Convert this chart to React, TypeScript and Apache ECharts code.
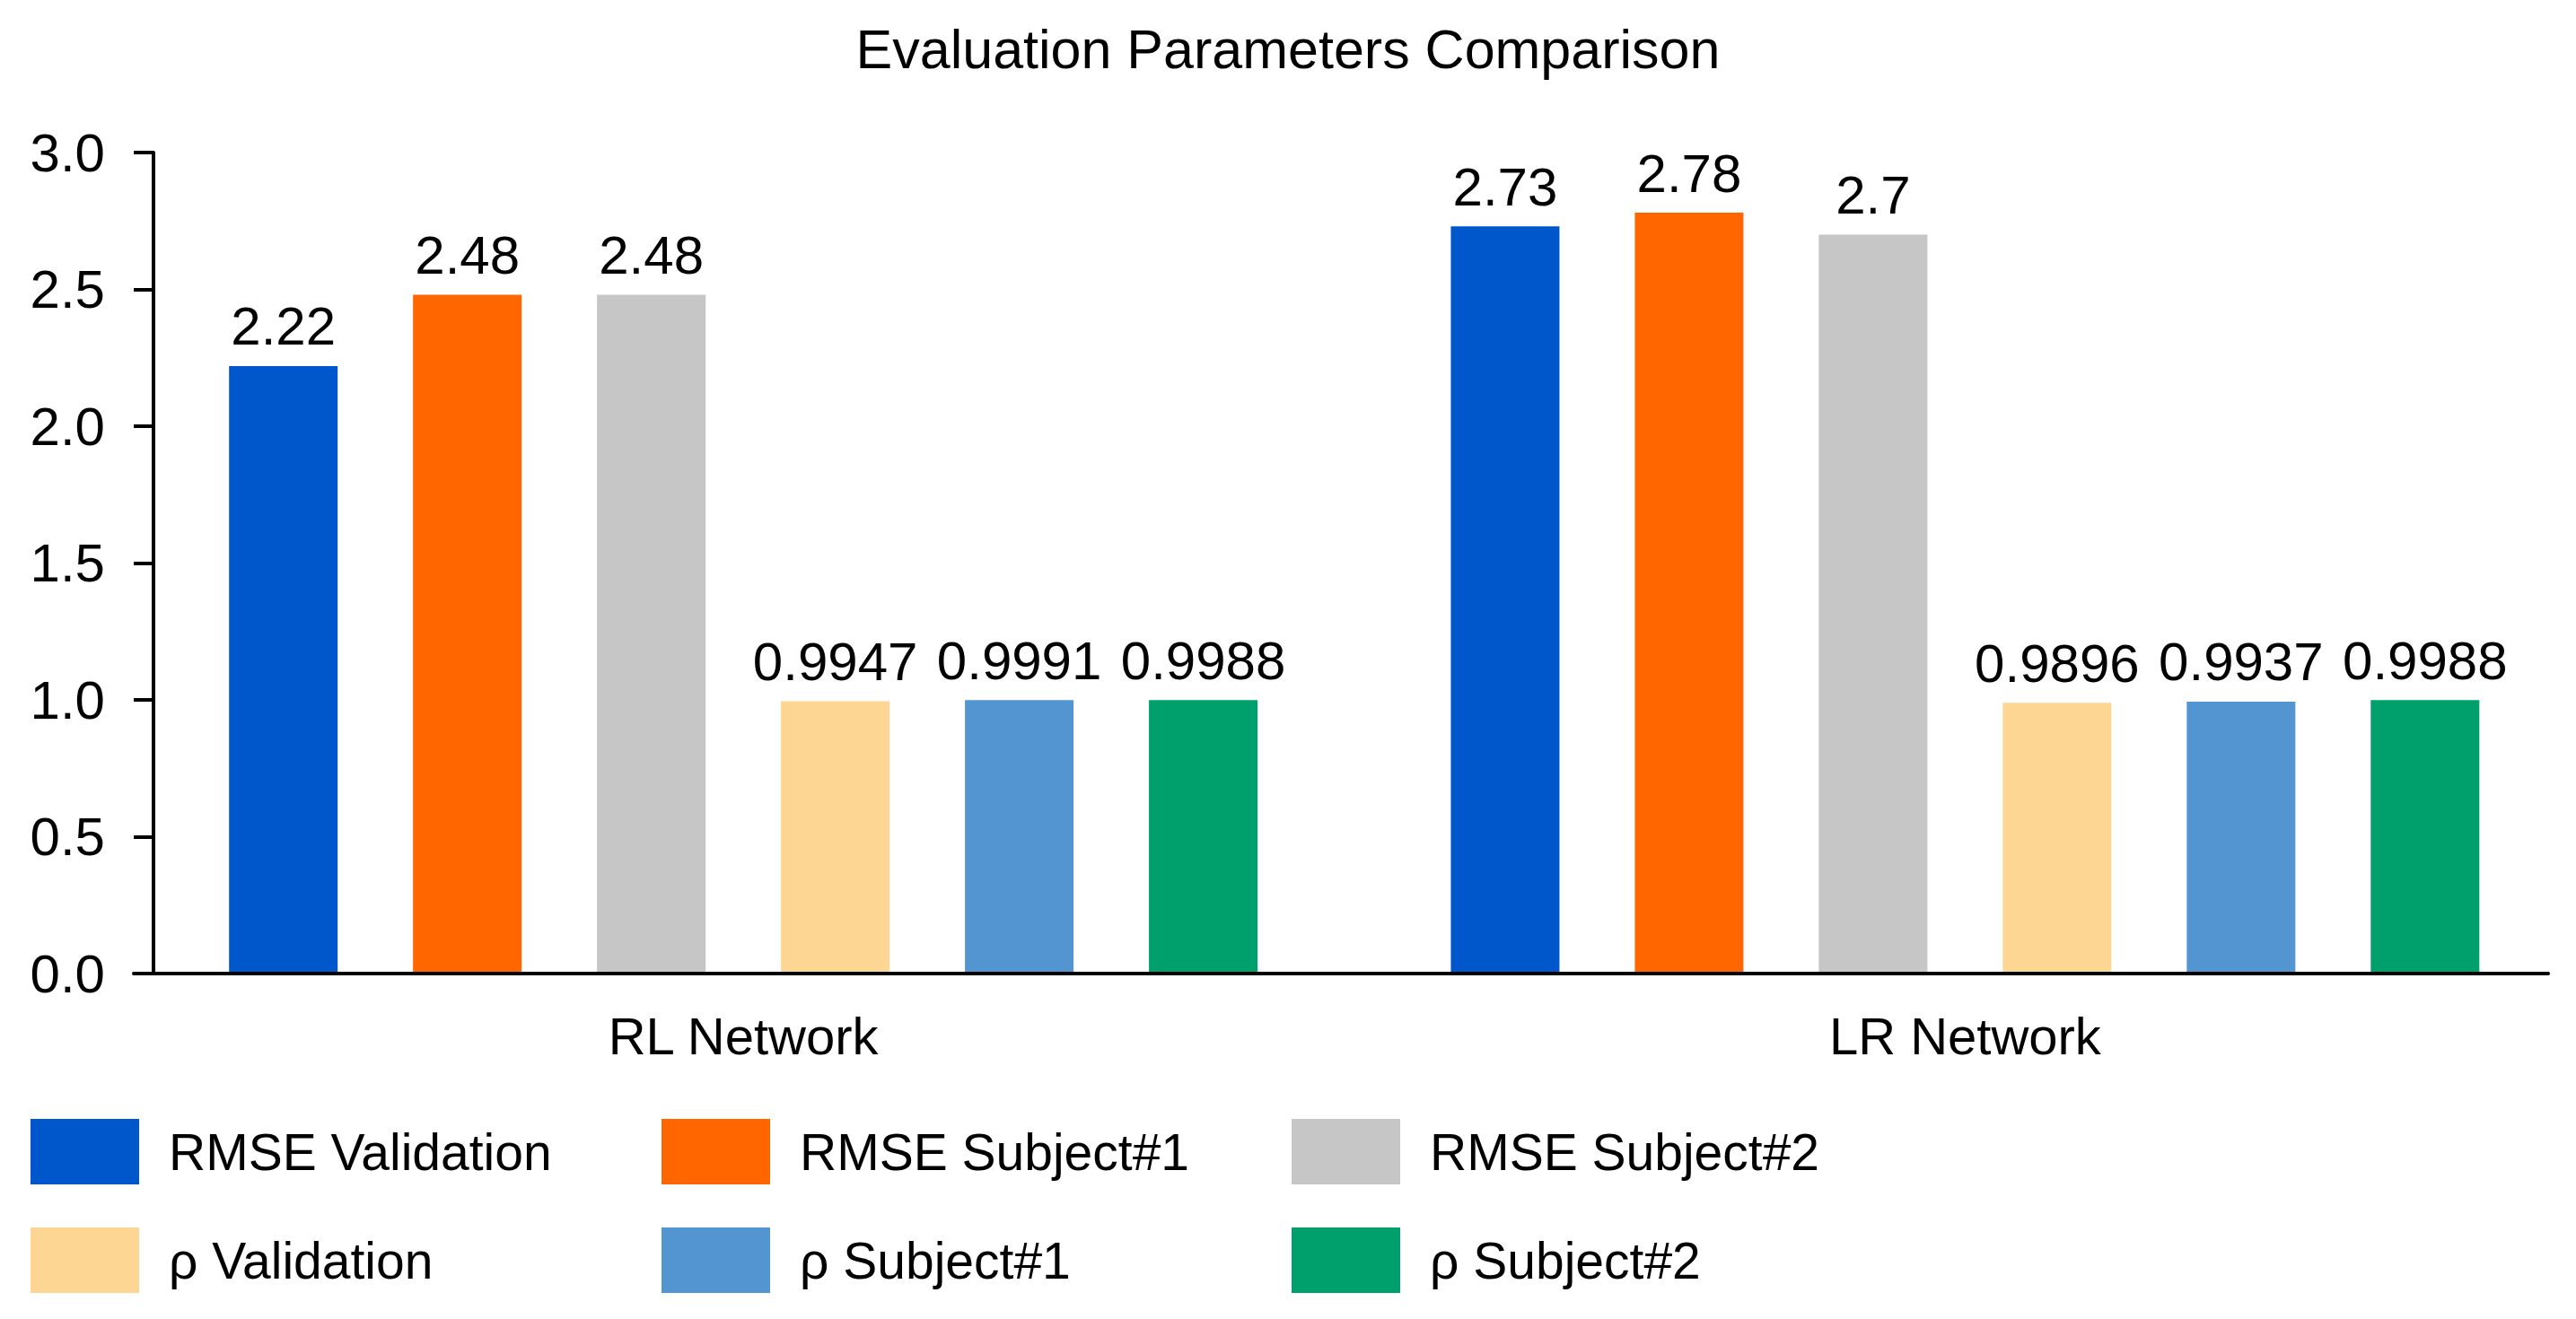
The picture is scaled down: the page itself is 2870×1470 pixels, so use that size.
import React, { useEffect, useRef } from "react";
import * as echarts from "echarts";

const categories = ["RL Network", "LR Network"];
const seriesNames = [
  "RMSE Validation",
  "RMSE Subject#1",
  "RMSE Subject#2",
  "ρ Validation",
  "ρ Subject#1",
  "ρ Subject#2",
];
const rmseValidation = [2.22, 2.73];
const rmseSubject1 = [2.48, 2.78];
const rmseSubject2 = [2.48, 2.7];
const rhoValidation = [0.9947, 0.9896];
const rhoSubject1 = [0.9991, 0.9937];
const rhoSubject2 = [0.9988, 0.9988];
const seriesValues = [rmseValidation, rmseSubject1, rmseSubject2, rhoValidation, rhoSubject1, rhoSubject2];
const colors = ["#0057CC", "#FF6600", "#C6C6C6", "#FED694", "#5395D1", "#00A06D"];
const yTicks = { min: 0, max: 3, interval: 0.5 };

const FONT = "'Liberation Sans', Arial, sans-serif";

export default function App() {
  const ref = useRef<HTMLDivElement>(null);
  useEffect(() => {
    if (!ref.current) return;
    const chart = echarts.init(ref.current, null, { renderer: "svg" });
    const legendCols = [
      { left: 29, names: [seriesNames[0], seriesNames[3]] },
      { left: 732, names: [seriesNames[1], seriesNames[4]] },
      { left: 1434, names: [seriesNames[2], seriesNames[5]] },
    ];
    chart.setOption({
      animation: false,
      backgroundColor: "#ffffff",
      textStyle: { fontFamily: FONT },
      title: {
        text: "Evaluation Parameters Comparison",
        left: "center",
        top: 19,
        textStyle: { fontFamily: FONT, fontSize: 61, fontWeight: "normal", color: "#000" },
      },
      legend: legendCols.map((c) => ({
        orient: "vertical",
        left: c.left,
        top: 1242,
        itemWidth: 121,
        itemHeight: 73,
        itemGap: 48,
        icon: "rect",
        data: c.names,
        selectedMode: false,
        textStyle: { fontFamily: FONT, fontSize: 57, color: "#000", padding: [0, 0, 0, 28] },
      })),
      grid: [
        { left: 147.5, right: -5.5, top: 170, height: 915 },
        { left: 149, right: 31, top: 170, height: 915 },
      ],
      xAxis: [
        {
          type: "category",
          gridIndex: 0,
          data: categories,
          axisLine: { show: false },
          axisTick: { show: false },
          axisLabel: { fontFamily: FONT, fontSize: 58, color: "#000", margin: 40 },
        },
        {
          type: "category",
          gridIndex: 1,
          data: categories,
          z: 5,
          axisLine: { show: true, lineStyle: { color: "#000", width: 4 } },
          axisTick: { show: false },
          axisLabel: { show: false },
        },
      ],
      yAxis: [
        {
          type: "value",
          gridIndex: 0,
          min: yTicks.min,
          max: yTicks.max,
          interval: yTicks.interval,
          offset: -23.5,
          z: 5,
          splitLine: { show: false },
          axisLine: { show: true, lineStyle: { color: "#000", width: 4 } },
          axisTick: { show: true, length: 22, lineStyle: { color: "#000", width: 4 } },
          axisLabel: {
            fontFamily: FONT,
            fontSize: 60,
            color: "#000",
            margin: 54,
            formatter: (v: number) => v.toFixed(1),
          },
        },
        {
          type: "value",
          gridIndex: 1,
          min: yTicks.min,
          max: yTicks.max,
          interval: yTicks.interval,
          show: false,
        },
      ],
      series: seriesNames.map((name, i) => ({
        name,
        type: "bar",
        xAxisIndex: 0,
        yAxisIndex: 0,
        data: seriesValues[i],
        barWidth: 121,
        barGap: "69.4%",
        itemStyle: { color: colors[i] },
        label: {
          show: true,
          position: "top",
          distance: 14,
          fontFamily: FONT,
          fontSize: 60,
          color: "#000",
        },
      })),
    });
    return () => chart.dispose();
  }, []);
  return (
    <div
      ref={ref}
      style={{ position: "absolute", left: 0, top: 0, width: 2870, height: 1470, background: "#fff" }}
    />
  );
}
